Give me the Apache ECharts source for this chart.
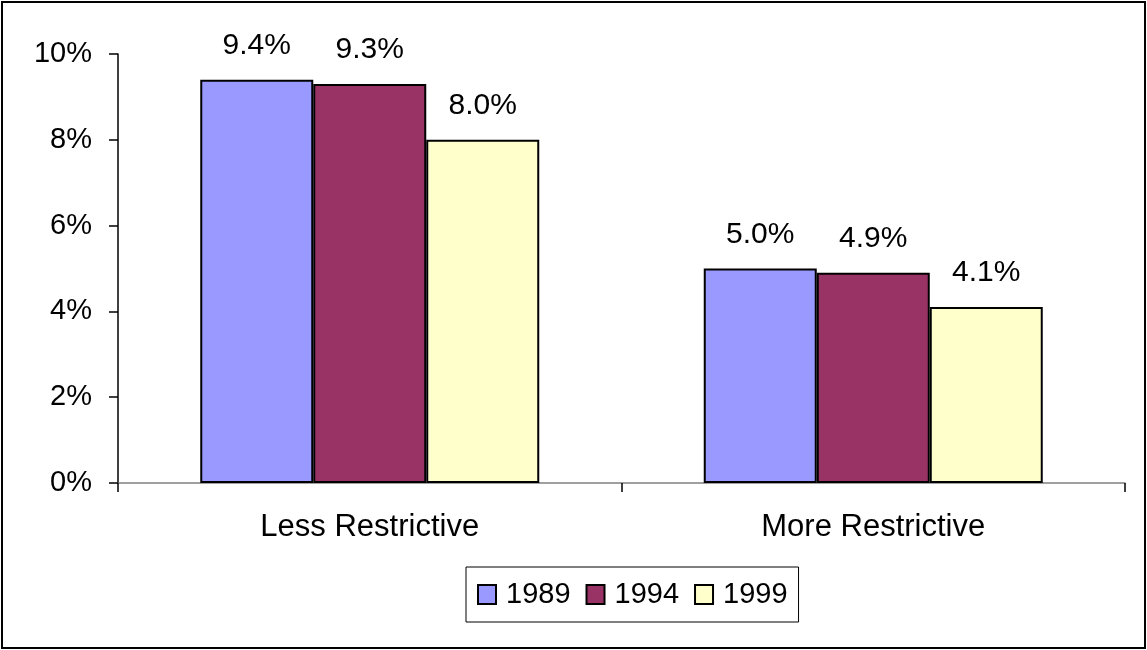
<!DOCTYPE html>
<html>
<head>
<meta charset="utf-8">
<script src="https://cdn.jsdelivr.net/npm/echarts@6/dist/echarts.min.js"></script>
<style>
  html, body { margin: 0; padding: 0; background: #fff; }
  #chart { width: 1147px; height: 650px; }
</style>
</head>
<body>
<div id="chart"></div>
<script>
// 数据
const categories = ['Less Restrictive', 'More Restrictive'];
const years = ['1989', '1994', '1999'];
const values1989 = [9.4, 5.0];
const values1994 = [9.3, 4.9];
const values1999 = [8.0, 4.1];
const yTicks = [0, 2, 4, 6, 8, 10];

const colors = ['#9999FF', '#993366', '#FFFFCC'];
const font = 'Liberation Sans, Arial, sans-serif';

const chart = echarts.init(document.getElementById('chart'));

function makeSeries(name, data, color) {
    return {
        name: name,
        type: 'bar',
        data: data,
        barWidth: 113,
        barGap: '0%',
        itemStyle: { color: color, borderColor: '#000', borderWidth: 2 },
        label: {
            show: true,
            position: 'top',
            distance: 19,
            color: '#000',
            fontFamily: font,
            fontSize: 30,
            formatter: p => p.value.toFixed(1) + '%'
        }
    };
}

const option = {
    backgroundColor: '#fff',
    animation: false,
    grid: { left: 118, right: 22, top: 54, bottom: 167 },
    legend: {
        data: years,
        left: 466,
        top: 567,
        padding: [13, 11, 13, 11],
        itemGap: 15,
        itemWidth: 18,
        itemHeight: 19,
        icon: 'rect',
        borderColor: '#000',
        borderWidth: 1,
        textStyle: { color: '#000', fontFamily: font, fontSize: 29, padding: [0, 0, 0, 5] }
    },
    xAxis: {
        type: 'category',
        data: categories,
        axisLine: { lineStyle: { color: '#808080', width: 1.5 } },
        axisTick: { show: true, length: 9, lineStyle: { color: '#000', width: 1.5 } },
        axisLabel: { color: '#000', fontFamily: font, fontSize: 31, margin: 29 }
    },
    yAxis: {
        type: 'value',
        min: yTicks[0],
        max: yTicks[yTicks.length - 1],
        interval: 2,
        splitLine: { show: false },
        axisLine: { show: true, lineStyle: { color: '#000', width: 1.5 } },
        axisTick: { show: true, length: 9, lineStyle: { color: '#000', width: 1.5 } },
        axisLabel: { color: '#000', fontFamily: font, fontSize: 29, margin: 26, formatter: v => v + '%' }
    },
    graphic: [{
        type: 'rect',
        shape: { x: 2, y: 2, width: 1143, height: 646 },
        style: { fill: 'none', stroke: '#000', lineWidth: 2 },
        silent: true
    }],
    series: [
        makeSeries(years[0], values1989, colors[0]),
        makeSeries(years[1], values1994, colors[1]),
        makeSeries(years[2], values1999, colors[2])
    ]
};

chart.setOption(option);

window.addEventListener('resize', function() {
    chart.resize();
});
</script>
</body>
</html>
